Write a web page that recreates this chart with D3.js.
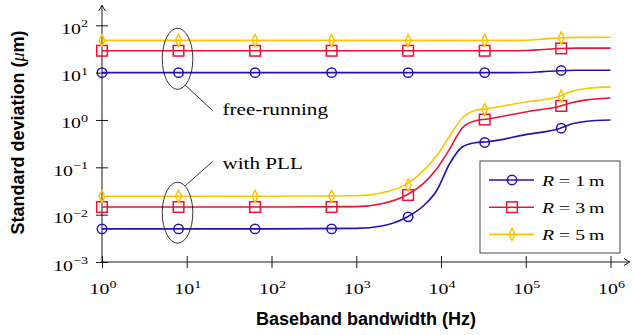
<!DOCTYPE html>
<html>
<head>
<meta charset="utf-8">
<script src="https://cdn.jsdelivr.net/npm/d3@7.9.0/dist/d3.min.js"></script>
<style>
  html, body { margin: 0; padding: 0; background: #fff; }
  svg { display: block; }
</style>
</head>
<body>
<svg id="chart" width="633" height="335"></svg>
<script>
// bandwidth samples (Hz) for the PLL curves
const bandwidth = [1, 100, 1000, 1995, 3981, 6310, 8913, 12589, 17783, 25119, 35481, 100000, 251189, 354813, 501187, 1000000];
const pllR1 = [0.005, 0.005, 0.00513, 0.00575, 0.0089, 0.0158, 0.0324, 0.1175, 0.269, 0.331, 0.347, 0.49, 0.66, 0.83, 0.93, 1.0];
const pllR3 = [0.0145, 0.0145, 0.0148, 0.017, 0.0263, 0.0468, 0.0933, 0.24, 0.676, 0.955, 1.047, 1.48, 1.95, 2.34, 2.63, 2.92];
const pllR5 = [0.0245, 0.0245, 0.0251, 0.0288, 0.0447, 0.087, 0.178, 0.447, 1.1, 1.58, 1.74, 2.4, 3.16, 4.07, 4.57, 5.0];

// bandwidth samples for the free-running curves
const freeBandwidth = [1, 63096, 100000, 158489, 251189, 398107, 1000000];
const freeR1 = [10, 10, 10.05, 10.5, 11.0, 11.2, 11.2];
const freeR3 = [29, 29, 29.3, 30.9, 32.4, 33, 33];
const freeR5 = [48, 48, 48.5, 51, 54, 55.5, 55.8];

// marker positions
const markerBandwidth = [1, 8, 64, 512, 4096, 32768, 262144];
const markerFreeR1 = [10, 10, 10, 10, 10, 10, 11.1];
const markerFreeR3 = [29, 29, 29, 29, 29, 29, 32.5];
const markerFreeR5 = [48, 48, 48, 48, 48, 48, 54];
const markerPllR1 = [0.005, 0.005, 0.005, 0.005, 0.009, 0.335, 0.67];
const markerPllR3 = [0.0145, 0.0145, 0.0145, 0.0145, 0.026, 1.02, 1.98];
const markerPllR5 = [0.0245, 0.0245, 0.0245, 0.0245, 0.042, 1.66, 3.18];

const xTicks = [1, 10, 100, 1e3, 1e4, 1e5, 1e6];
const xTickExp = ['0', '1', '2', '3', '4', '5', '6'];
const yTicks = [1e-3, 1e-2, 1e-1, 1, 10, 100];
const yTickExp = ['−3', '−2', '−1', '0', '1', '2'];

const legendLabels = ['1', '3', '5'];

// annotation ellipses: [bandwidth, centre value, label]
const noteAt = [8, 8];
const noteCentre = [19.6, 0.011];
const noteText = ['free-running', 'with PLL'];

const colors = ['#2412b0', '#ee1133', '#ffc400'];
const shapes = ['circle', 'square', 'diamond'];

const svg = d3.select('#chart');
const serif = '"Liberation Serif", "Times New Roman", serif';
const sans = '"Liberation Sans", Arial, sans-serif';
const sx = 1.28;

const x = d3.scaleLog().domain([1, 1e6]).range([102, 610.5]);
const y = d3.scaleLog().domain([1e-3, 1e2]).range([262, 25.3]);

// axes
const xAxis = svg.append('g')
  .attr('transform', `translate(0,${y(1e-3)})`)
  .call(d3.axisBottom(x).tickValues(xTicks).tickSize(6).tickFormat(''));
const yAxis = svg.append('g')
  .attr('transform', `translate(${x(1)},0)`)
  .call(d3.axisLeft(y).tickValues(yTicks).tickSize(6).tickFormat(''));

[xAxis, yAxis].forEach((g) => {
  g.select('.domain').remove();
  g.selectAll('.tick line').attr('stroke', '#000').attr('stroke-width', 0.9);
});
xAxis.selectAll('.tick line').attr('y1', -6).attr('y2', 6);
yAxis.selectAll('.tick line').attr('x1', -6).attr('x2', 6);

// axis lines with arrows
svg.append('line')
  .attr('x1', x(1) - 0.5).attr('x2', 629)
  .attr('y1', y(1e-3)).attr('y2', y(1e-3))
  .attr('stroke', '#000').attr('stroke-width', 0.9);
svg.append('line')
  .attr('x1', x(1)).attr('x2', x(1))
  .attr('y1', y(1e-3) + 0.5).attr('y2', 6)
  .attr('stroke', '#000').attr('stroke-width', 0.9);
svg.append('path')
  .attr('d', `M${630 - 6},${y(1e-3) - 3.5} Q${630 - 2.5},${y(1e-3) - 1} 630,${y(1e-3)} Q${630 - 2.5},${y(1e-3) + 1} ${630 - 6},${y(1e-3) + 3.5}`)
  .attr('fill', 'none').attr('stroke', '#000').attr('stroke-width', 0.9);
svg.append('path')
  .attr('d', `M${x(1) - 3.5},11 Q${x(1) - 1},7.5 ${x(1)},5 Q${x(1) + 1},7.5 ${x(1) + 3.5},11`)
  .attr('fill', 'none').attr('stroke', '#000').attr('stroke-width', 0.9);

function powLabel(px, py, exp, anchor) {
  const t = svg.append('text')
    .attr('transform', `translate(${px},${py}) scale(${sx},1)`)
    .attr('text-anchor', anchor)
    .attr('font-family', serif)
    .attr('font-size', 15.5)
    .attr('fill', '#000');
  t.append('tspan').text('10');
  t.append('tspan').attr('dy', -6.5).attr('font-size', 11).text(exp);
}

xTicks.forEach((v, i) => powLabel(x(v) + 1, 294, xTickExp[i], 'middle'));
yTicks.forEach((v, i) => powLabel(88, y(v) + 8.5, yTickExp[i], 'end'));

// axis titles
svg.append('text')
  .attr('x', 366).attr('y', 325)
  .attr('text-anchor', 'middle')
  .attr('font-family', sans).attr('font-weight', 'bold').attr('font-size', 18)
  .text('Baseband bandwidth (Hz)');

const yTitle = svg.append('text')
  .attr('transform', `translate(24,132.5) rotate(-90)`)
  .attr('text-anchor', 'middle')
  .attr('font-family', sans).attr('font-weight', 'bold').attr('font-size', 18);
yTitle.append('tspan').text('Standard deviation (');
yTitle.append('tspan').attr('font-family', serif).attr('font-style', 'italic').attr('font-weight', 'normal').text('μ');
yTitle.append('tspan').text('m)');

// curves
const line = d3.line()
  .x((d) => x(d[0]))
  .y((d) => y(d[1]))
  .curve(d3.curveMonotoneX);

const pllSeries = [pllR1, pllR3, pllR5];
const freeSeries = [freeR1, freeR3, freeR5];
const markerPll = [markerPllR1, markerPllR3, markerPllR5];
const markerFree = [markerFreeR1, markerFreeR3, markerFreeR5];

function marker(g, shape, color, cx, cy) {
  if (shape === 'circle') {
    g.append('circle').attr('cx', cx).attr('cy', cy).attr('r', 4.7)
      .attr('fill', 'none').attr('stroke', color).attr('stroke-width', 1.5);
  } else if (shape === 'square') {
    g.append('rect').attr('x', cx - 5.3).attr('y', cy - 5.3).attr('width', 10.6).attr('height', 10.6)
      .attr('fill', 'none').attr('stroke', color).attr('stroke-width', 1.5);
  } else {
    g.append('path').attr('d', `M${cx},${cy - 6} L${cx + 3},${cy} L${cx},${cy + 6} L${cx - 3},${cy} Z`)
      .attr('fill', 'none').attr('stroke', color).attr('stroke-width', 1.5);
  }
}

[0, 1, 2].forEach((k) => {
  const g = svg.append('g');
  g.append('path')
    .attr('d', line(bandwidth.map((b, i) => [b, pllSeries[k][i]])))
    .attr('fill', 'none').attr('stroke', colors[k]).attr('stroke-width', 1.6);
  g.append('path')
    .attr('d', line(freeBandwidth.map((b, i) => [b, freeSeries[k][i]])))
    .attr('fill', 'none').attr('stroke', colors[k]).attr('stroke-width', 1.6);
  markerBandwidth.forEach((b, i) => {
    marker(g, shapes[k], colors[k], x(b), y(markerPll[k][i]));
    marker(g, shapes[k], colors[k], x(b), y(markerFree[k][i]));
  });
});

// annotations
const notePointer = [[[185, 85], [212.5, 110.5]], [[185, 186], [212.5, 161.5]]];
noteAt.forEach((b, i) => {
  svg.append('ellipse')
    .attr('cx', x(b) - 1).attr('cy', y(noteCentre[i]))
    .attr('rx', 15.3).attr('ry', 30.5)
    .attr('fill', 'none').attr('stroke', '#000').attr('stroke-width', 0.8);
  svg.append('line')
    .attr('x1', notePointer[i][0][0]).attr('y1', notePointer[i][0][1])
    .attr('x2', notePointer[i][1][0]).attr('y2', notePointer[i][1][1])
    .attr('stroke', '#000').attr('stroke-width', 0.8);
  svg.append('text')
    .attr('transform', `translate(222.5,${i === 0 ? 114.5 : 169}) scale(${sx},1)`)
    .attr('font-family', serif).attr('font-size', 16.5)
    .text(noteText[i]);
});

// legend
const legend = svg.append('g').attr('transform', 'translate(480,161)');
legend.append('rect')
  .attr('width', 140).attr('height', 92)
  .attr('fill', '#fff').attr('stroke', '#333').attr('stroke-width', 0.9);
legendLabels.forEach((lab, k) => {
  const cy = 19 + k * 27.2;
  legend.append('line')
    .attr('x1', 9).attr('x2', 54).attr('y1', cy).attr('y2', cy)
    .attr('stroke', colors[k]).attr('stroke-width', 1.6);
  marker(legend, shapes[k], colors[k], 32, cy);
  const t = legend.append('text')
    .attr('transform', `translate(62,${cy + 5.5}) scale(${sx},1)`)
    .attr('font-family', serif).attr('font-size', 15.5);
  t.append('tspan').attr('font-style', 'italic').text('R');
  t.append('tspan').text(` = ${lab}\u2009m`);
});
</script>
</body>
</html>
